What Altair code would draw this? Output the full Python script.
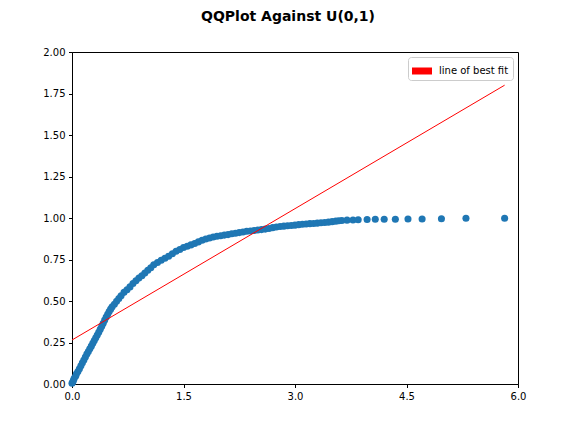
import altair as alt
import pandas as pd

# Scatter points (theoretical quantile, sample value)
qx = [0.00, 0.01, 0.02, 0.03, 0.05, 0.06, 0.08, 0.10, 0.12, 0.14, 0.16, 0.18, 0.20, 0.22, 0.24,
      0.26, 0.28, 0.30, 0.32, 0.34, 0.36, 0.38, 0.40, 0.42, 0.44, 0.46, 0.48, 0.50, 0.52, 0.54,
      0.57, 0.60, 0.63, 0.66, 0.70, 0.74, 0.78, 0.82, 0.86, 0.90, 0.94, 0.98, 1.02, 1.06, 1.10,
      1.15, 1.20, 1.25, 1.30, 1.35, 1.40, 1.45, 1.50, 1.55, 1.60, 1.65, 1.70, 1.75, 1.80, 1.85, 1.90,
      1.95, 2.00, 2.05, 2.10, 2.15, 2.20, 2.25, 2.30, 2.35, 2.40, 2.45, 2.50, 2.55, 2.60, 2.65,
      2.70, 2.75, 2.80, 2.85, 2.90, 2.95, 3.00, 3.05, 3.10, 3.15, 3.20,
      3.25, 3.30, 3.35, 3.40, 3.45, 3.50, 3.55, 3.59,
      3.63, 3.70, 3.78, 3.85, 3.97, 4.08, 4.20, 4.35, 4.52, 4.71, 4.97, 5.30, 5.82]
qy = [0.005, 0.012, 0.022, 0.035, 0.048, 0.062, 0.075, 0.092, 0.110, 0.128, 0.145, 0.163, 0.180, 0.196, 0.212,
      0.228, 0.245, 0.262, 0.278, 0.295, 0.312, 0.330, 0.348, 0.366, 0.385, 0.403, 0.420, 0.436, 0.451, 0.465,
      0.480, 0.498, 0.515, 0.532, 0.552, 0.568, 0.585, 0.605, 0.622, 0.638, 0.652, 0.668, 0.685, 0.700, 0.718,
      0.732, 0.745, 0.757, 0.770, 0.785, 0.800, 0.810, 0.822, 0.830, 0.838, 0.846, 0.856, 0.866, 0.873, 0.880, 0.886,
      0.890, 0.893, 0.897, 0.900, 0.905, 0.908, 0.912, 0.916, 0.920, 0.922, 0.925, 0.928, 0.930, 0.933, 0.937,
      0.942, 0.946, 0.949, 0.951, 0.953, 0.955, 0.957, 0.960, 0.962, 0.964, 0.966,
      0.967, 0.969, 0.971, 0.973, 0.975, 0.978, 0.981, 0.983,
      0.985, 0.987, 0.988, 0.989, 0.991, 0.992, 0.993, 0.993, 0.994, 0.994, 0.995, 0.998, 0.999]

# Line of best fit endpoints
fit_x = [0.0, 5.82]
fit_y = [0.265, 1.80]
fit_label = "line of best fit"

x_ticks = [0.0, 1.5, 3.0, 4.5, 6.0]
y_ticks = [0.0, 0.25, 0.5, 0.75, 1.0, 1.25, 1.5, 1.75, 2.0]

pts = pd.DataFrame({"x": qx, "y": qy})
fit = pd.DataFrame({"x": fit_x, "y": fit_y, "series": [fit_label] * len(fit_x)})

xscale = alt.Scale(domain=[0, 6], nice=False, zero=False)
yscale = alt.Scale(domain=[0, 2], nice=False, zero=False)
xaxis = alt.Axis(values=x_ticks, format=".1f", title=None, grid=False, labelFlush=False)
yaxis = alt.Axis(values=y_ticks, format=".2f", title=None, grid=False, labelFlush=False)

points = alt.Chart(pts).mark_circle(size=50, color="#1f77b4", opacity=1).encode(
    x=alt.X("x:Q", scale=xscale, axis=xaxis),
    y=alt.Y("y:Q", scale=yscale, axis=yaxis),
)

line = alt.Chart(fit).mark_line(strokeWidth=1, clip=True).encode(
    x=alt.X("x:Q", scale=xscale),
    y=alt.Y("y:Q", scale=yscale),
    color=alt.Color(
        "series:N",
        scale=alt.Scale(domain=[fit_label], range=["red"]),
        legend=alt.Legend(
            title=None,
            orient="top-right",
            offset=5,
            padding=4,
            strokeColor="#cccccc",
            fillColor="white",
            cornerRadius=3,
            symbolType="M-1,-0.35L1,-0.35L1,0.35L-1,0.35Z",
            symbolSize=400,
            symbolFillColor="red",
            symbolStrokeWidth=0,
            labelFont="DejaVu Sans",
            labelFontSize=10,
            labelColor="black",
            labelOffset=7,
        ),
    ),
)

chart = (
    alt.layer(points, line)
    .properties(
        width=446,
        height=332,
        autosize=alt.AutoSizeParams(type="none"),
        padding={"left": 64, "top": 44, "right": 50, "bottom": 40},
        title=alt.TitleParams(
            "QQPlot Against U(0,1)",
            font="DejaVu Sans",
            fontSize=14,
            fontWeight="bold",
            color="black",
            anchor="middle",
            dx=-7,
            offset=23,
        ),
    )
    .configure_view(stroke="black", strokeWidth=1)
    .configure_axis(
        domainColor="black",
        domainWidth=1,
        tickColor="black",
        tickSize=3.5,
        tickWidth=1,
        labelFont="DejaVu Sans",
        labelFontSize=10,
        labelColor="black",
        labelPadding=3.5,
    )
)

chart.save("out.html", embed_options={"renderer": "svg", "actions": False})
